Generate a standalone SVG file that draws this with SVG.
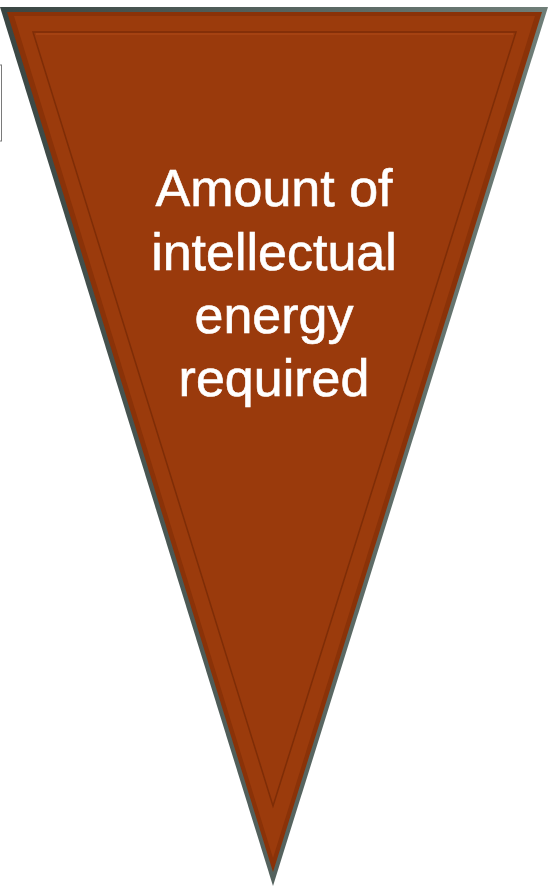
<svg xmlns="http://www.w3.org/2000/svg" width="548" height="886" viewBox="0 0 548 886">
  <style>
    .label { font-family: "Liberation Sans", Arial, sans-serif; font-size: 52px; fill: #ffffff; text-anchor: middle; stroke: #ffffff; stroke-width: 0.6; }
  </style>
  <defs>
    <linearGradient id="edgeL" x1="0" y1="0" x2="1" y2="0">
      <stop offset="0" stop-color="#3a4643"/>
      <stop offset="1" stop-color="#6f7e78"/>
    </linearGradient>
  </defs>
  <g id="side-box">
    <rect x="-10" y="65" width="11.5" height="76" fill="none" stroke="#7a7a7a" stroke-width="1"/>
  </g>
  <g id="pennant">
    <polygon points="0,7 548,7 273,886" fill="url(#edgeL)"/>
    <polygon points="7,12 542,12 273,872" fill="#8a3208"/>
    <polygon points="14,16 535,16 273,858" fill="#9b3b0c"/>
    <polygon points="33,32 516,32 273,806" fill="#9a3a0c" stroke="#7e2d07" stroke-width="1.5"/>
    <polyline points="36,34 513,34" fill="none" stroke="#b04a18" stroke-width="1"/>
    <text class="label" x="274" y="206">Amount of</text>
    <text class="label" x="274" y="270">intellectual</text>
    <text class="label" x="274" y="333">energy</text>
    <text class="label" x="274" y="396">required</text>
  </g>
  <g id="connectors"/>
</svg>
